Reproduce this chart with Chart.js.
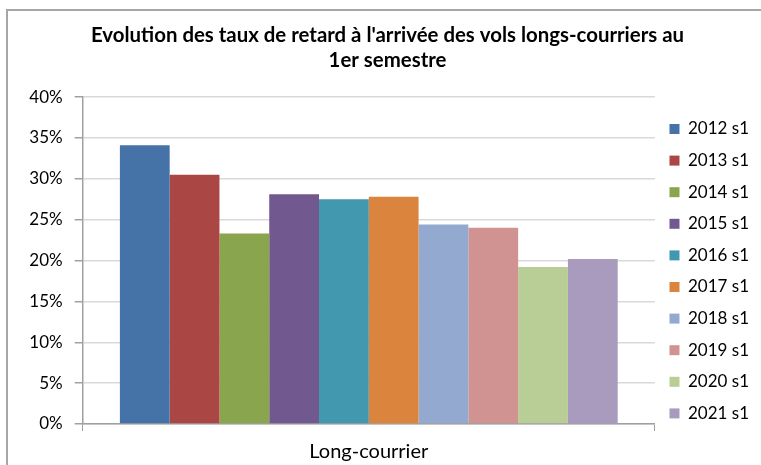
<!DOCTYPE html>
<html>
<head>
<meta charset="utf-8">
<script src="https://cdn.jsdelivr.net/npm/chart.js@4"></script>
<style>
  html, body { margin: 0; padding: 0; background: #fff; overflow: hidden; }
  #frame {
    position: absolute; left: 6px; top: 9px; width: 800px; height: 500px;
    border-left: 2px solid #a6a6a6; border-top: 2px solid #a6a6a6;
  }
  #wrap { position: absolute; left: 0; top: 0; width: 761px; height: 465px; }
</style>
</head>
<body>
<div id="frame"></div>
<div id="wrap"><canvas id="delayChart"></canvas></div>
<script>
const categories = ['Long-courrier'];
const seriesNames = ['2012 s1', '2013 s1', '2014 s1', '2015 s1', '2016 s1',
                     '2017 s1', '2018 s1', '2019 s1', '2020 s1', '2021 s1'];
const seriesValues = [34.1, 30.5, 23.3, 28.1, 27.5, 27.8, 24.4, 24.0, 19.2, 20.2];
const seriesColors = ['#4572A7', '#AA4643', '#89A54E', '#71588F', '#4198AF',
                      '#DB843D', '#93A9CF', '#D19392', '#B9CD96', '#A99BBD'];
const yTicks = [0, 5, 10, 15, 20, 25, 30, 35, 40];
const titleLines = ["Evolution des taux de retard à l'arrivée des vols longs-courriers au", '1er semestre'];

document.addEventListener('DOMContentLoaded', function() {
    const ctx = document.getElementById('delayChart');

    const datasets = seriesNames.map((name, i) => ({
        label: name,
        data: [seriesValues[i]],
        backgroundColor: seriesColors[i],
        borderWidth: 0,
        categoryPercentage: 0.87,
        barPercentage: 1.0
    }));

    new Chart(ctx, {
        type: 'bar',
        data: {
            labels: categories,
            datasets: datasets
        },
        options: {
            responsive: true,
            maintainAspectRatio: false,
            animation: false,
            layout: {
                padding: { left: 16, right: 2, top: 0, bottom: 0 }
            },
            plugins: {
                legend: {
                    position: 'right',
                    align: 'start',
                    // empty title only used to push the items down
                    title: {
                        display: true,
                        text: '',
                        padding: { top: 95.9, bottom: 0 },
                        font: { family: 'Lato', size: 10, lineHeight: 1 }
                    },
                    labels: {
                        boxWidth: 10,
                        boxHeight: 10,
                        padding: 14.6,
                        color: '#000',
                        font: { family: 'Lato', size: 17 }
                    }
                },
                title: {
                    display: true,
                    text: titleLines,
                    color: '#000',
                    padding: { top: 22.5, bottom: 24 },
                    font: { family: 'Lato', size: 20.4, weight: 'bold', lineHeight: 1.24 }
                },
                tooltip: { enabled: false }
            },
            scales: {
                x: {
                    afterFit: axis => {
                        axis.height = 41;
                    },
                    grid: {
                        display: true,
                        drawOnChartArea: false,
                        color: '#a0a0a0',
                        tickLength: 7
                    },
                    border: { color: '#a0a0a0', width: 1.5 },
                    ticks: {
                        color: '#000',
                        padding: 9,
                        font: { family: 'Lato', size: 20 }
                    }
                },
                y: {
                    min: 0,
                    max: 40,
                    afterBuildTicks: axis => {
                        axis.ticks = yTicks.map(v => ({ value: v }));
                    },
                    afterFit: axis => {
                        axis.width = 66.7;
                    },
                    grid: {
                        color: '#d9d9d9',
                        lineWidth: 1.5,
                        tickColor: '#a0a0a0',
                        tickLength: 8
                    },
                    border: { color: '#a0a0a0', width: 1.5 },
                    ticks: {
                        color: '#000',
                        padding: 12,
                        callback: v => v + '%',
                        font: { family: 'Lato', size: 17 }
                    }
                }
            }
        }
    });
});
</script>
</body>
</html>
